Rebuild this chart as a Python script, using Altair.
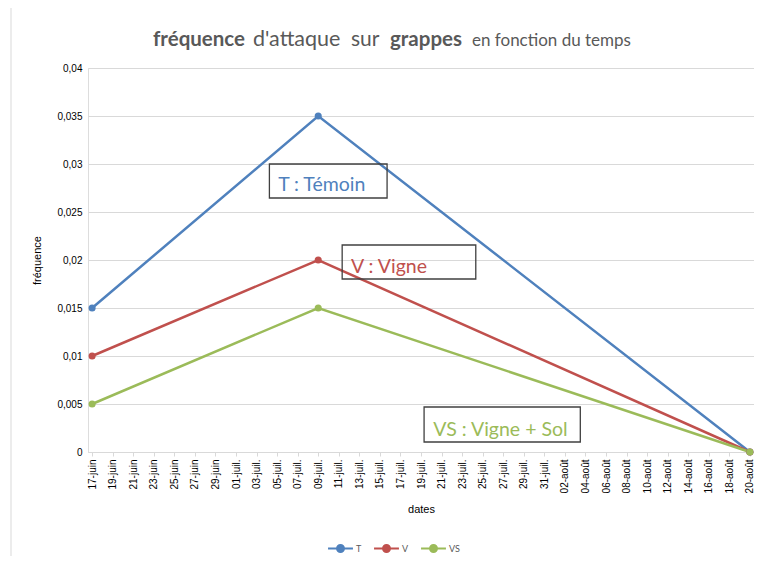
import altair as alt
import pandas as pd

# ---- data ----
tick_labels = [
    "17-juin", "19-juin", "21-juin", "23-juin", "25-juin", "27-juin", "29-juin",
    "01-juil.", "03-juil.", "05-juil.", "07-juil.", "09-juil.", "11-juil.", "13-juil.",
    "15-juil.", "17-juil.", "19-juil.", "21-juil.", "23-juil.", "25-juil.", "27-juil.",
    "29-juil.", "31-juil.",
    "02-août", "04-août", "06-août", "08-août", "10-août", "12-août", "14-août",
    "16-août", "18-août", "20-août",
]
dates = ["17-juin", "09-juil.", "20-août"]
series_names = ["T", "V", "VS"]
values_T = [0.015, 0.035, 0.0]
values_V = [0.010, 0.020, 0.0]
values_VS = [0.005, 0.015, 0.0]
y_ticks = [0, 0.005, 0.01, 0.015, 0.02, 0.025, 0.03, 0.035, 0.04]

colors = ["#4F81BD", "#C0504D", "#9BBB59"]
FONT = "Lato"
GREY = "#595959"

rows = []
for name, vals in zip(series_names, [values_T, values_V, values_VS]):
    for d, v in zip(dates, vals):
        rows.append({"serie": name, "date": d, "day": tick_labels.index(d) * 2, "value": v})
df = pd.DataFrame(rows)

# annotation boxes (data coordinates: day, value)
ann = pd.DataFrame([
    {"label": "T : Témoin", "x1": 17.25, "x2": 28.7, "y1": 0.0300, "y2": 0.02646,
     "tx": 18.1, "ty": 0.0272, "serie": "T"},
    {"label": "V : Vigne", "x1": 24.33, "x2": 37.33, "y1": 0.02156, "y2": 0.01802,
     "tx": 25.2, "ty": 0.01865, "serie": "V"},
    {"label": "VS : Vigne + Sol", "x1": 32.3, "x2": 47.5, "y1": 0.00469, "y2": 0.00104,
     "tx": 33.2, "ty": 0.00167, "serie": "VS"},
])

W, H = 666, 384

label_expr_x = "[" + ",".join("'" + l + "'" for l in tick_labels) + "][round(datum.value / 2)]"

x_enc = alt.X("day:Q",
              scale=alt.Scale(domain=[-0.4, 64.4], nice=False, zero=False),
              axis=alt.Axis(values=list(range(0, 65, 2)), tickCount=40,
                            labelExpr=label_expr_x, labelFontSize=10,
                            labelAngle=270, title="dates", grid=False, labelOverlap=False,
                            labelBound=False, labelFlush=False,
                            tickSize=4, tickColor="#d9d9d9", domainColor="#d9d9d9",
                            labelPadding=3, titlePadding=11, titleFontWeight=400))
y_enc = alt.Y("value:Q",
              scale=alt.Scale(domain=[0, 0.04], nice=False),
              axis=alt.Axis(values=y_ticks, tickCount=20,
                            labelExpr="replace(format(datum.value, '.3~f'), '.', ',')",
                            title="fréquence", domain=False, ticks=False,
                            labelPadding=6, titlePadding=14, titleFontWeight=400,
                            gridColor="#d9d9d9"))

legend = alt.Legend(
    title=None, orient="none", legendX=239, legendY=467, direction="horizontal",
    symbolType="M-1,0L1,0M-0.28,0A0.28,0.28,0,1,1,0.28,0A0.28,0.28,0,1,1,-0.28,0Z",
    symbolSize=620, symbolStrokeWidth=2, labelFontSize=9, labelColor=GREY,
    labelFont=FONT, columnPadding=8, labelOffset=2,
)
color_enc = alt.Color("serie:N",
                      scale=alt.Scale(domain=series_names, range=colors),
                      legend=legend)

base = alt.Chart(df)
lines = base.mark_line(strokeWidth=2.5).encode(x=x_enc, y=y_enc, color=color_enc)
points = base.mark_circle(size=50, opacity=1).encode(x=x_enc, y=y_enc, color=color_enc)

box_rects = alt.Chart(ann).mark_rect(fill=None, stroke="#404040", strokeWidth=1.3).encode(
    x=alt.X("x1:Q"), x2="x2", y=alt.Y("y1:Q"), y2="y2")
box_text = alt.Chart(ann).mark_text(align="left", baseline="alphabetic",
                                    font=FONT, fontSize=19.5).encode(
    x=alt.X("tx:Q"), y=alt.Y("ty:Q"), text="label:N",
    color=alt.Color("serie:N", scale=alt.Scale(domain=series_names, range=colors), legend=None))

one = pd.DataFrame({"a": [0]})
border = alt.Chart(one).mark_rect(fill=None, stroke="#d9d9d9", strokeWidth=1).encode(
    x=alt.value(-77), x2=alt.value(W + 40), y=alt.value(-61), y2=alt.value(H + 200))

title_pieces = [
    ("fréquence", "bold", 20.5, 65),
    ("d'attaque", "normal", 21.5, 165),
    ("sur", "normal", 21, 263),
    ("grappes", "bold", 20.5, 302),
    ("en fonction du temps", "normal", 17, 384),
]
title_layers = []
for txt, wt, fs, px in title_pieces:
    title_layers.append(
        alt.Chart(one).mark_text(align="left", baseline="alphabetic", font=FONT,
                                 fontSize=fs, fontWeight=wt, color=GREY, text=txt)
        .encode(x=alt.value(px), y=alt.value(-22))
    )

chart = alt.layer(border, *title_layers, lines, points, box_rects, box_text).properties(
    width=W, height=H,
    autosize=alt.AutoSizeParams(type="none"),
    padding={"left": 80, "top": 60, "right": 0, "bottom": 104},
).configure_view(stroke=None).configure_axis(
    labelFont=FONT, titleFont=FONT, labelColor=GREY, titleColor=GREY,
    labelFontSize=9.5, titleFontSize=10, labelOverlap=False,
).configure(background="white")

chart.save("out.html", embed_options={"renderer": "svg", "actions": False})
